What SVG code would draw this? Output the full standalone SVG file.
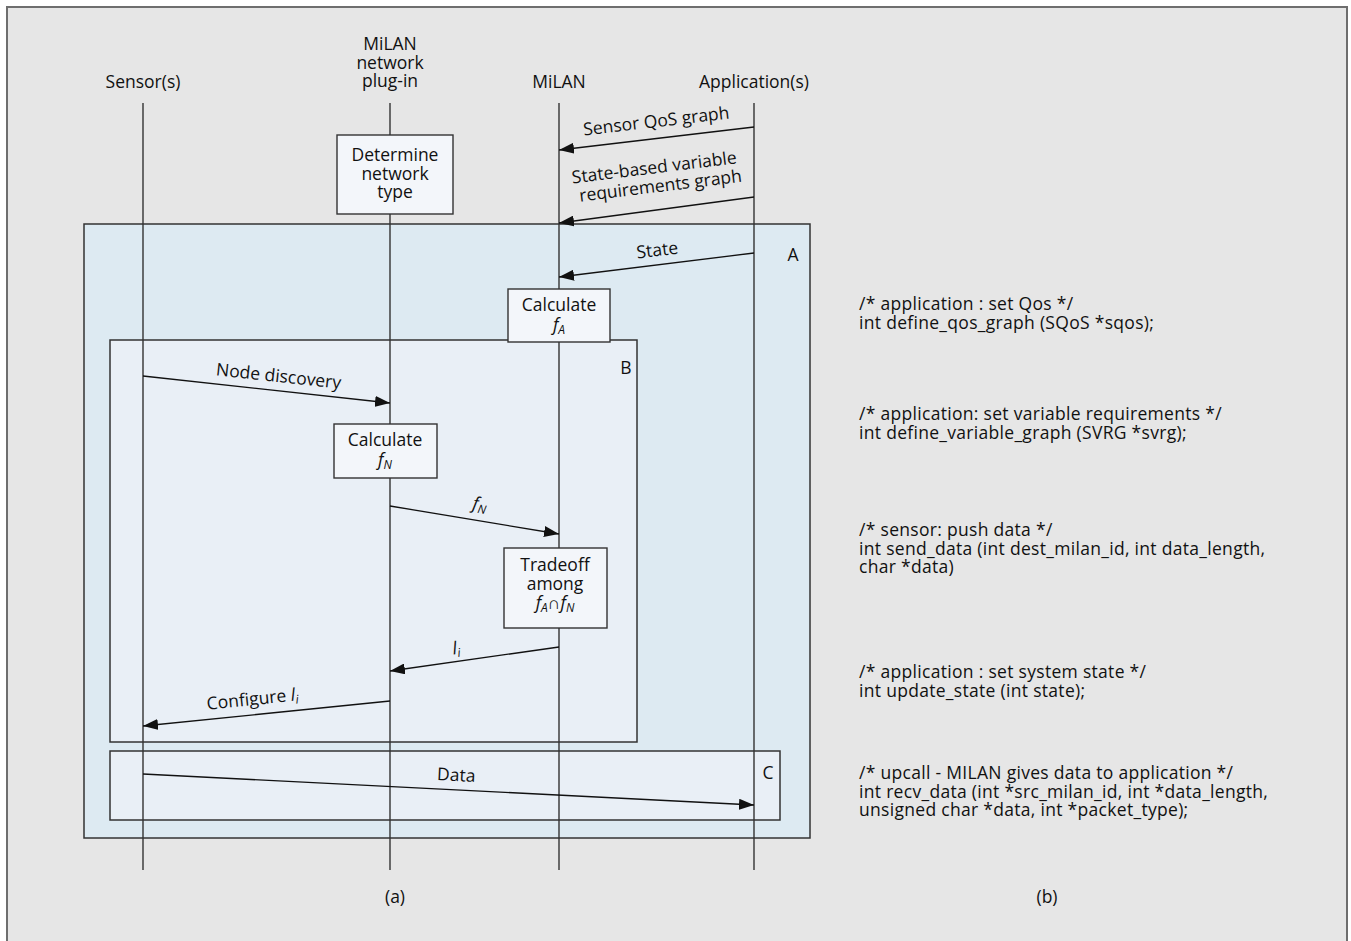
<svg xmlns="http://www.w3.org/2000/svg" width="1351" height="941" viewBox="0 0 1351 941">
<defs>
<marker id="ah" markerUnits="userSpaceOnUse" markerWidth="16" markerHeight="11" refX="15" refY="5.5" orient="auto">
<path d="M0,0 L15,5.5 L0,11 z" fill="#111"/>
</marker>
<style>
text{font-family:"Open Sans","Noto Sans","Liberation Sans",sans-serif;font-size:17.5px;fill:#111}
.c{text-anchor:middle}
.h{font-size:17.5px}
.life{stroke:#333;stroke-width:1.4;fill:none}
.node{fill:#f3f6fa;stroke:#333;stroke-width:1.4}
.msg{stroke:#111;stroke-width:1.3;fill:none;marker-end:url(#ah)}
.it{font-style:italic}
.sub{font-style:italic;font-size:12px}
.code{font-size:17.5px;letter-spacing:0.3px}
</style>
</defs>
<rect x="7" y="7" width="1340" height="945" fill="#e6e6e6" stroke="#6e6e6e" stroke-width="2"/>

<g id="frameA">
<rect x="84" y="224" width="726" height="614" fill="#ddeaf2" stroke="#333" stroke-width="1.5"/>
<text x="793" y="261" class="c">A</text>
</g>
<g id="frameB">
<rect x="110" y="340" width="527" height="402" fill="#e9eff6" stroke="#333" stroke-width="1.5"/>
<text x="626" y="374" class="c">B</text>
</g>
<g id="frameC">
<rect x="110" y="751" width="670" height="69" fill="#e9eff6" stroke="#333" stroke-width="1.5"/>
<text x="768" y="779" class="c">C</text>
</g>

<g id="lifelines">
<g id="sensor">
<text x="143" y="88" class="c h">Sensor(s)</text>
<line class="life" x1="143" y1="103" x2="143" y2="870"/>
</g>
<g id="plugin">
<text x="390" y="50" class="c h">MiLAN</text>
<text x="390" y="68.5" class="c h">network</text>
<text x="390" y="87" class="c h">plug-in</text>
<line class="life" x1="390" y1="103" x2="390" y2="870"/>
</g>
<g id="milan">
<text x="559" y="88" class="c h">MiLAN</text>
<line class="life" x1="559" y1="103" x2="559" y2="870"/>
</g>
<g id="application">
<text x="754" y="88" class="c h">Application(s)</text>
<line class="life" x1="754" y1="103" x2="754" y2="870"/>
</g>
</g>

<g id="determine">
<rect class="node" x="337" y="135" width="116" height="79"/>
<text x="395" y="161" class="c">Determine</text>
<text x="395" y="179.5" class="c">network</text>
<text x="395" y="198" class="c">type</text>
</g>
<g id="calcA">
<rect class="node" x="508" y="289" width="102" height="53"/>
<text x="559" y="311" class="c">Calculate</text>
<text x="559" y="331" class="c"><tspan class="it">f</tspan><tspan class="sub" dy="3">A</tspan></text>
</g>
<g id="calcN">
<rect class="node" x="334" y="424" width="103" height="54"/>
<text x="385" y="446" class="c">Calculate</text>
<text x="385" y="466" class="c"><tspan class="it">f</tspan><tspan class="sub" dy="3">N</tspan></text>
</g>
<g id="tradeoff">
<rect class="node" x="504" y="548" width="103" height="80"/>
<text x="555" y="571" class="c">Tradeoff</text>
<text x="555" y="590" class="c">among</text>
<text x="555" y="609" class="c"><tspan class="it">f</tspan><tspan class="sub" dy="3">A</tspan><tspan dy="-3">∩</tspan><tspan class="it">f</tspan><tspan class="sub" dy="3">N</tspan></text>
</g>

<g id="connectors">
<line class="msg" x1="754" y1="127" x2="559" y2="150"/>
<line class="msg" x1="754" y1="197" x2="559" y2="223"/>
<line class="msg" x1="754" y1="253" x2="559" y2="277"/>
<line class="msg" x1="143" y1="376" x2="390" y2="403"/>
<line class="msg" x1="390" y1="506" x2="559" y2="534"/>
<line class="msg" x1="559" y1="647" x2="390" y2="671"/>
<line class="msg" x1="390" y1="701" x2="143" y2="726"/>
<line class="msg" x1="143" y1="774" x2="754" y2="805"/>
<text x="657" y="127" class="c" transform="rotate(-6.7 657 127)">Sensor QoS graph</text>
<g transform="rotate(-7 658 182)">
<text x="656" y="173" class="c">State-based variable</text>
<text x="660" y="192" class="c">requirements graph</text>
</g>
<text x="658" y="256" class="c" transform="rotate(-7 658 256)">State</text>
<text x="278" y="382" class="c" transform="rotate(6.2 278 382)">Node discovery</text>
<text x="479" y="510" class="c" transform="rotate(9.4 479 510)"><tspan class="it">f</tspan><tspan class="sub" dy="3">N</tspan></text>
<text x="457" y="654" class="c" transform="rotate(-8 457 654)"><tspan class="it">l</tspan><tspan class="sub" dy="3">i</tspan></text>
<text x="253" y="705" class="c" transform="rotate(-5.8 253 705)">Configure <tspan class="it">l</tspan><tspan class="sub" dy="3">i</tspan></text>
<text x="456" y="781" class="c" transform="rotate(2.9 456 781)">Data</text>
</g>

<g id="captions">
<text x="395" y="903" class="c">(a)</text>
<text x="1047" y="903" class="c">(b)</text>
</g>

<g id="code">
<text x="859" y="310" class="code">/* application : set Qos */</text>
<text x="859" y="328.5" class="code">int define_qos_graph (SQoS *sqos);</text>
<text x="859" y="420" class="code">/* application: set variable requirements */</text>
<text x="859" y="438.5" class="code">int define_variable_graph (SVRG *svrg);</text>
<text x="859" y="536" class="code">/* sensor: push data */</text>
<text x="859" y="554.5" class="code">int send_data (int dest_milan_id, int data_length,</text>
<text x="859" y="573" class="code">char *data)</text>
<text x="859" y="678" class="code">/* application : set system state */</text>
<text x="859" y="696.5" class="code">int update_state (int state);</text>
<text x="859" y="779" class="code">/* upcall - MILAN gives data to application */</text>
<text x="859" y="797.5" class="code">int recv_data (int *src_milan_id, int *data_length,</text>
<text x="859" y="816" class="code">unsigned char *data, int *packet_type);</text>
</g>
</svg>
